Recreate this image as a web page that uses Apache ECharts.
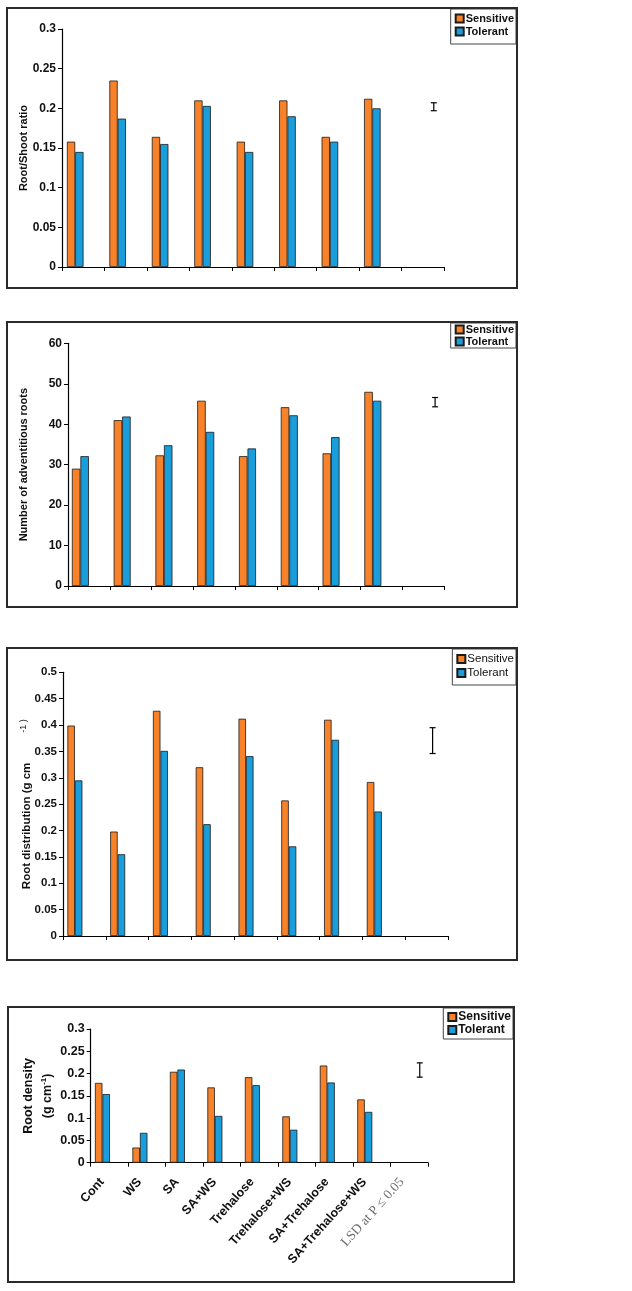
<!DOCTYPE html>
<html>
<head>
<meta charset="utf-8">
<script src="https://cdn.jsdelivr.net/npm/echarts@6/dist/echarts.min.js"></script>
<style>
  html, body { margin: 0; padding: 0; background: #fff; }
  .panel { position: absolute; box-sizing: border-box; border: 2px solid #2a2a2a; background: #fff; }
  .chart { position: absolute; left: 0; top: 0; right: 0; bottom: 0; }
</style>
</head>
<body>
<div class="panel" style="left:6px;top:7px;width:512px;height:282px;"><div id="c1" class="chart"></div></div>
<div class="panel" style="left:6px;top:321px;width:512px;height:287px;"><div id="c2" class="chart"></div></div>
<div class="panel" style="left:6px;top:647px;width:512px;height:314px;"><div id="c3" class="chart"></div></div>
<div class="panel" style="left:7px;top:1006px;width:508px;height:277px;"><div id="c4" class="chart"></div></div>
<script>
// ---- data ----
var categories = ['Cont', 'WS', 'SA', 'SA+WS', 'Trehalose', 'Trehalose+WS', 'SA+Trehalose', 'SA+Trehalose+WS', 'LSD at P \u2264 0.05'];
var seriesNames = ['Sensitive', 'Tolerant'];

var ratioSensitive = [0.158, 0.235, 0.164, 0.210, 0.158, 0.210, 0.164, 0.212];
var ratioTolerant  = [0.145, 0.187, 0.155, 0.203, 0.145, 0.190, 0.158, 0.200];
var ratioLSD = [0.197, 0.207];
var ratioTicks = { min: 0, max: 0.3, interval: 0.05 };

var rootsSensitive = [29.0, 41.0, 32.3, 45.8, 32.1, 44.2, 32.8, 48.0];
var rootsTolerant  = [32.1, 41.9, 34.8, 38.1, 34.0, 42.2, 36.8, 45.8];
var rootsLSD = [44.3, 46.6];
var rootsTicks = { min: 0, max: 60, interval: 10 };

var distSensitive = [0.399, 0.198, 0.427, 0.320, 0.412, 0.257, 0.410, 0.292];
var distTolerant  = [0.295, 0.155, 0.351, 0.212, 0.341, 0.170, 0.372, 0.236];
var distLSD = [0.346, 0.395];
var distTicks = { min: 0, max: 0.5, interval: 0.05 };

var densSensitive = [0.179, 0.034, 0.204, 0.169, 0.192, 0.104, 0.218, 0.142];
var densTolerant  = [0.154, 0.067, 0.209, 0.105, 0.174, 0.074, 0.180, 0.114];
var densLSD = [0.192, 0.224];
var densTicks = { min: 0, max: 0.3, interval: 0.05 };

// ---- drawing ----
var SANS = "'Liberation Sans', Arial, sans-serif";
var ORANGE = '#F7822A', BLUE = '#1A9DDB';
// empty slot (no values) reserving the LSD column position in each bar group
var emptySlot = categories.map(function () { return '-'; });

function makePanel(id, o) {
  var chart = echarts.init(document.getElementById(id), null, { renderer: 'canvas' });
  var bw = o.barWidth;
  var option = {
    animation: false,
    textStyle: { fontFamily: SANS },
    grid: { left: o.grid[0], top: o.grid[1], width: o.grid[2], height: o.grid[3], containLabel: false, outerBoundsMode: 'none' },
    legend: {
      data: seriesNames,
      orient: 'vertical',
      right: 0, top: 0,
      itemWidth: 8, itemHeight: 8, itemGap: o.legendGap,
      padding: o.legendPad,
      borderColor: '#444', borderWidth: 1, backgroundColor: '#fff',
      textStyle: { fontFamily: SANS, fontWeight: o.legendBold ? 'bold' : 'normal', fontSize: o.legendSize, color: '#111', padding: [0, 0, 0, -3] },
      icon: 'rect'
    },
    xAxis: {
      type: 'category',
      data: categories,
      axisLine: { lineStyle: { color: '#000', width: 1.2 } },
      axisTick: { show: true, interval: 0, length: 4, lineStyle: { color: '#000' } },
      axisLabel: o.xLabels ? {
        show: true, interval: 0, rotate: 48, margin: 9, padding: [0, 11, 0, 0],
        fontFamily: SANS, fontWeight: 'bold', fontSize: 12.5, color: '#111',
        formatter: function (v, i) { return i === 8 ? '{lsd|' + v + '}' : v; },
        rich: { lsd: { fontFamily: "'Liberation Serif', serif", fontWeight: 'normal', fontSize: 13.5, color: '#6f6a70' } }
      } : { show: false, interval: 0 },
      splitLine: { show: false }
    },
    yAxis: {
      type: 'value',
      min: o.ticks.min, max: o.ticks.max, interval: o.ticks.interval,
      axisLine: { show: true, lineStyle: { color: '#000', width: 1.2 } },
      axisTick: { show: true, length: 4, lineStyle: { color: '#000' } },
      axisLabel: { fontFamily: SANS, fontWeight: 'bold', fontSize: o.tickSize, color: '#111', margin: 6 },
      splitLine: { show: false },
      name: o.yName,
      nameLocation: 'middle',
      nameRotate: 90,
      nameGap: o.nameGap,
      nameMoveOverlap: false,
      nameTextStyle: o.nameStyle
    },
    series: [
      { name: seriesNames[0], type: 'bar', data: o.s, barWidth: bw, barGap: '0%',
        itemStyle: { color: ORANGE, borderColor: '#1a1a1a', borderWidth: 0.8 } },
      { name: seriesNames[1], type: 'bar', data: o.t, barWidth: bw, barGap: '0%',
        itemStyle: { color: BLUE, borderColor: '#1a1a1a', borderWidth: 0.8 } },
      { name: 'LSD', type: 'bar', data: emptySlot, barWidth: o.slotWidth, barGap: '0%',
        itemStyle: { color: 'rgba(0,0,0,0)' } },
      { name: 'LSD bar', type: 'custom',
        data: [[8, o.lsd[0], o.lsd[1]]],
        encode: { x: 0, y: [1, 2] },
        renderItem: function (params, api) {
          var lo = api.coord([api.value(0), api.value(1)]);
          var hi = api.coord([api.value(0), api.value(2)]);
          var x = lo[0] + o.lsdOffset, cap = 3;
          var st = { stroke: '#000', lineWidth: 1.2 };
          return { type: 'group', children: [
            { type: 'line', shape: { x1: x, y1: lo[1], x2: x, y2: hi[1] }, style: st },
            { type: 'line', shape: { x1: x - cap, y1: lo[1], x2: x + cap, y2: lo[1] }, style: st },
            { type: 'line', shape: { x1: x - cap, y1: hi[1], x2: x + cap, y2: hi[1] }, style: st }
          ] };
        }
      }
    ]
  };
  chart.setOption(option);
}

makePanel('c1', {
  grid: [54, 20, 382, 238], barWidth: 8.3, slotWidth: 16, ticks: ratioTicks, tickSize: 12,
  s: ratioSensitive, t: ratioTolerant, lsd: ratioLSD, lsdOffset: 11,
  yName: 'Root/Shoot ratio', nameGap: 33,
  nameStyle: { fontFamily: SANS, fontWeight: 'bold', fontSize: 11, color: '#111' },
  legendGap: 2, legendPad: [4, 2, 7, 4], legendBold: true, legendSize: 11, xLabels: false
});

makePanel('c2', {
  grid: [60, 20.3, 376, 242.7], barWidth: 8.5, slotWidth: 17, ticks: rootsTicks, tickSize: 12,
  s: rootsSensitive, t: rootsTolerant, lsd: rootsLSD, lsdOffset: 12,
  yName: 'Number of adventitious roots', nameGap: 39,
  nameStyle: { fontFamily: SANS, fontWeight: 'bold', fontSize: 11, color: '#111' },
  legendGap: 1, legendPad: [1, 2, 1, 4], legendBold: true, legendSize: 11, xLabels: false
});

makePanel('c3', {
  grid: [55, 23.3, 385, 263.7], barWidth: 7.5, slotWidth: 19, ticks: distTicks, tickSize: 11.5,
  s: distSensitive, t: distTolerant, lsd: distLSD, lsdOffset: 6,
  yName: '{a|Root distribution (g cm}{s|-1 )}', nameGap: 29,
  nameStyle: { fontFamily: SANS, fontWeight: 'bold', fontSize: 11.5, color: '#111',
    rich: { a: { fontFamily: SANS, fontWeight: 'bold', fontSize: 11.5, color: '#111' },
            s: { fontFamily: SANS, fontWeight: 'normal', fontSize: 9, color: '#111', padding: [0, 0, 6, 30] } } },
  legendGap: 2, legendPad: [4, 2, 6, 4], legendBold: false, legendSize: 11.5, xLabels: false
});

makePanel('c4', {
  grid: [81.7, 21, 337.3, 133.7], barWidth: 7.5, slotWidth: 14, ticks: densTicks, tickSize: 12.5,
  s: densSensitive, t: densTolerant, lsd: densLSD, lsdOffset: 10.5,
  yName: '{a|Root density}\n{a|(g cm}{s|-1}{a|)}', nameGap: 34,
  nameStyle: { fontFamily: SANS, fontWeight: 'bold', fontSize: 12.5, color: '#111', lineHeight: 19,
    rich: { a: { fontFamily: SANS, fontWeight: 'bold', fontSize: 12.5, color: '#111', lineHeight: 19 },
            s: { fontFamily: SANS, fontWeight: 'bold', fontSize: 8, color: '#111', lineHeight: 19, padding: [0, 0, 7, 0] } } },
  legendGap: 1, legendPad: [3, 2, 3, 4], legendBold: true, legendSize: 12, xLabels: true
});
</script>
</body>
</html>
